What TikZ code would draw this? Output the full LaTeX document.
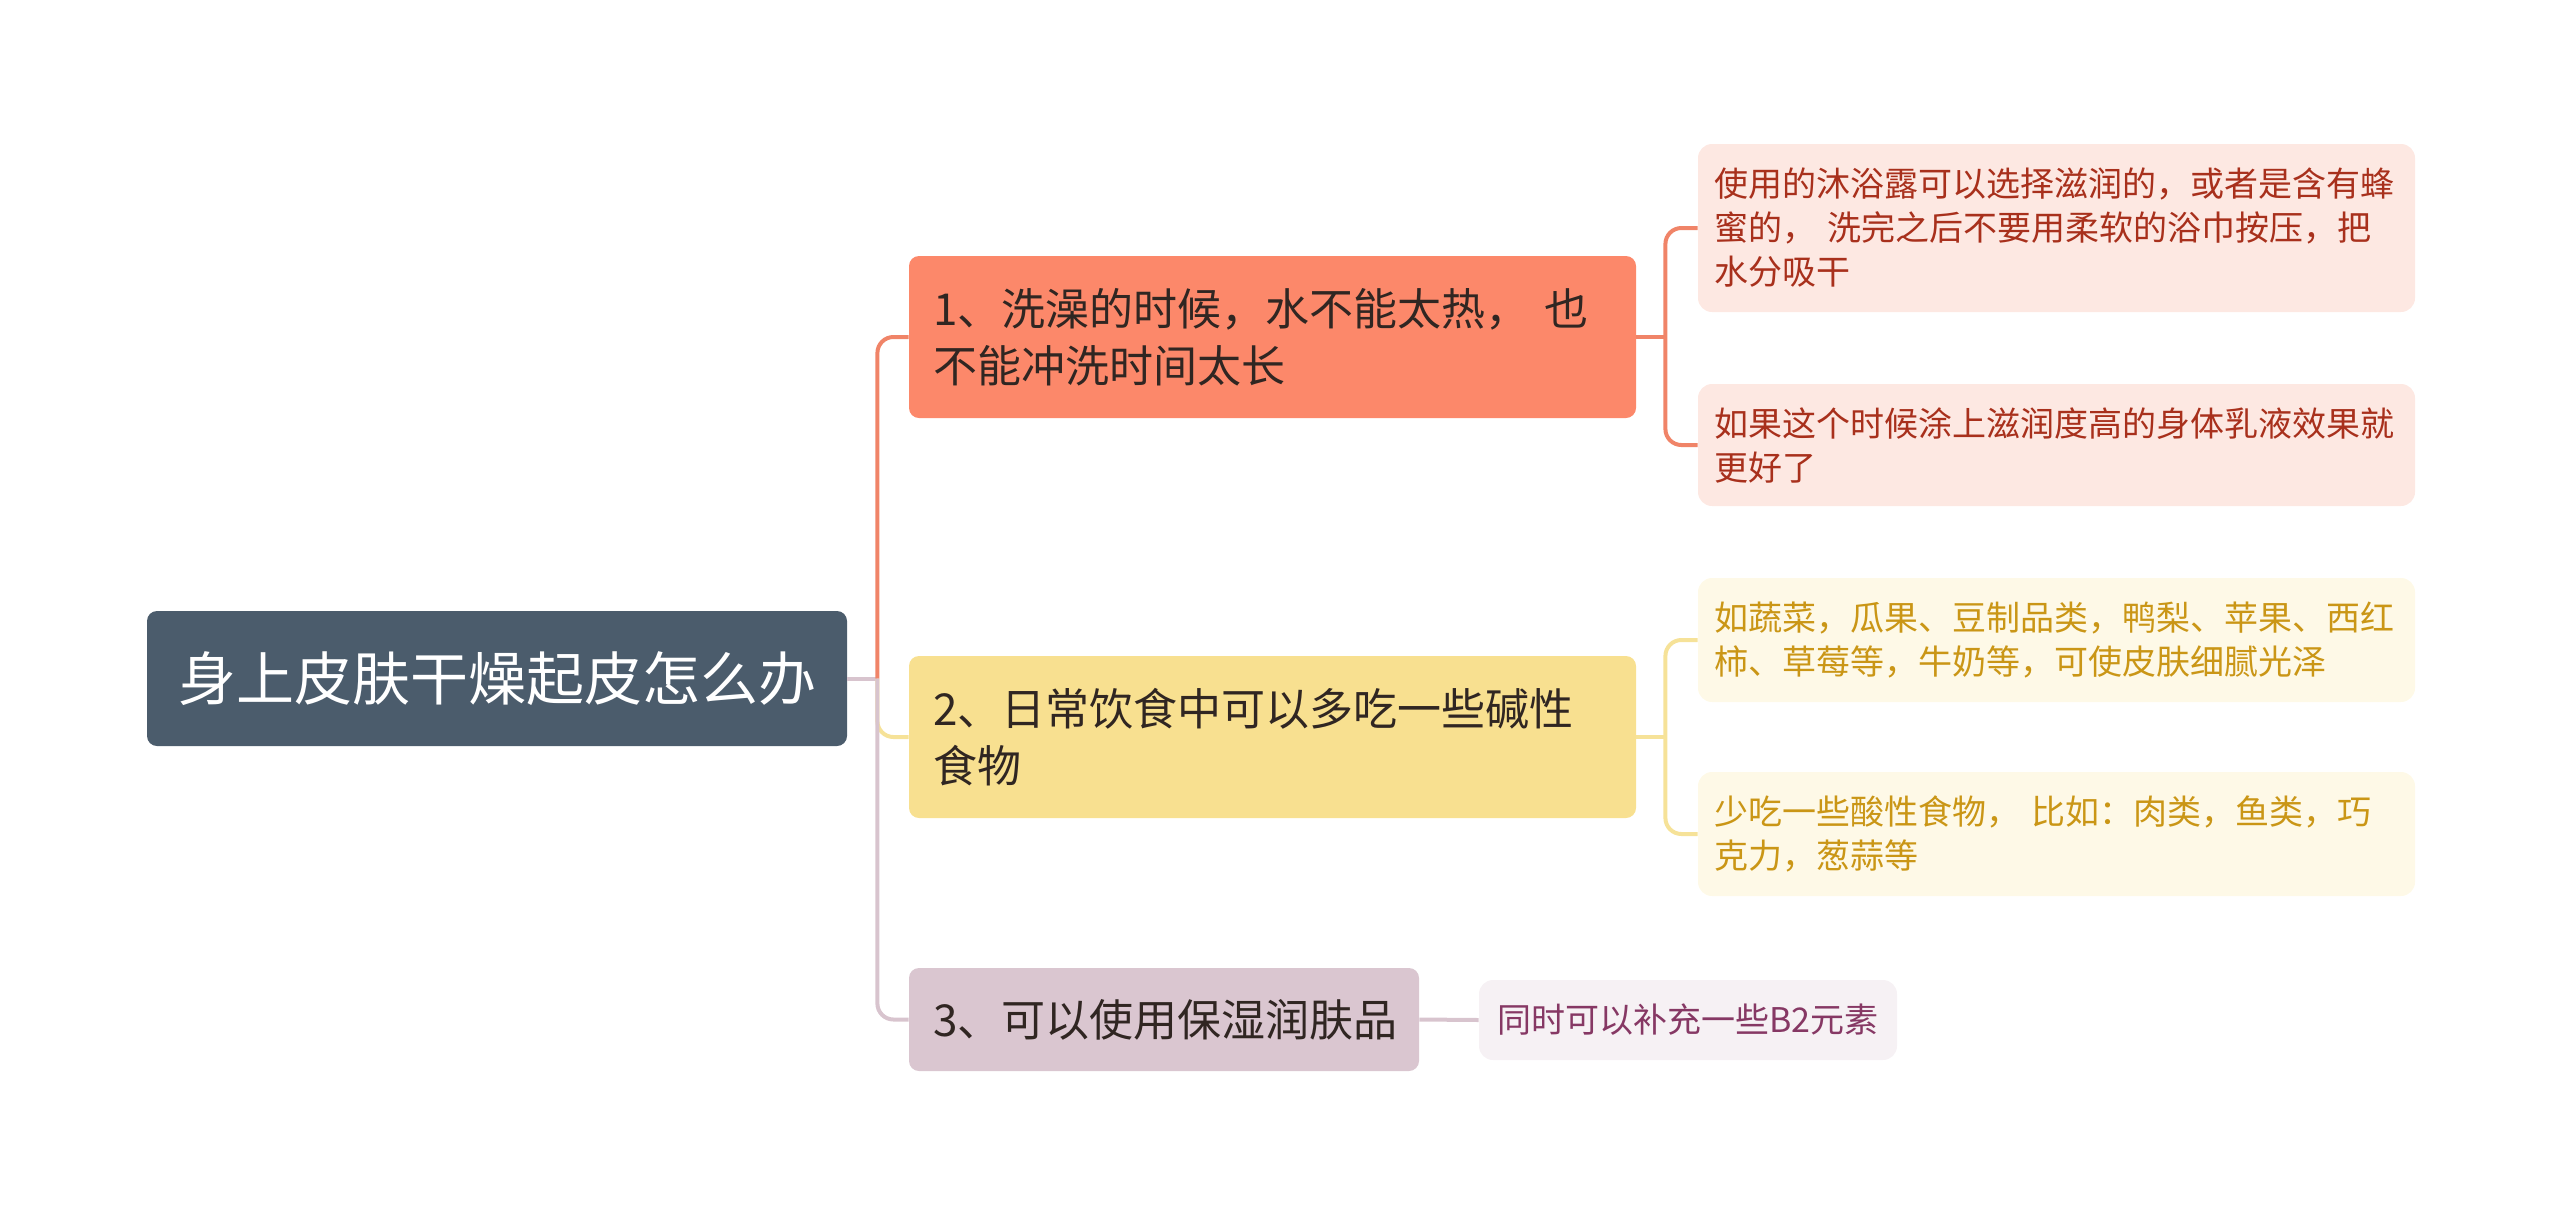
\documentclass[tikz,border=0pt]{standalone}
\usepackage{fontspec}
\setmainfont{Noto Sans CJK SC}
\usetikzlibrary{positioning}
\usepackage{xcolor}
\definecolor{Pizarra}{RGB}{75, 92, 108}
\definecolor{Salmon}{RGB}{252, 136, 106}
\definecolor{SalmonLine}{RGB}{240, 132, 104}
\definecolor{Maiz}{RGB}{248, 224, 144}
\definecolor{MaizLine}{RGB}{246, 226, 152}
\definecolor{Malva}{RGB}{218, 198, 208}
\definecolor{MalvaLine}{RGB}{216, 196, 206}
\definecolor{RosaClaro}{RGB}{253, 232, 226}
\definecolor{CremaClaro}{RGB}{254, 249, 231}
\definecolor{MalvaClaro}{RGB}{246, 241, 244}
\definecolor{Ladrillo}{RGB}{168, 48, 28}
\definecolor{Mostaza}{RGB}{202, 150, 22}
\definecolor{Ciruela}{RGB}{134, 56, 100}
\definecolor{Tinta}{RGB}{48, 38, 34}

\tikzset{
	rootbox/.style={fill=Pizarra, text=white, rounded corners=5pt, minimum width=350pt, minimum height=67.5pt, align=center, font=\fontsize{29pt}{35pt}\selectfont},
	topicbox/.style={rounded corners=5pt, text=Tinta, inner xsep=12pt, align=left, font=\fontsize{22pt}{28.5pt}\selectfont},
	leafbox/.style={rounded corners=7pt, inner xsep=8pt, text width=342.5pt, minimum height=#1, align=left, font=\fontsize{17pt}{22pt}\selectfont},
	link/.style={line width=2pt, rounded corners=8pt}
}

\begin{document}
\begin{tikzpicture}[x=0.5pt, y=-0.5pt]
	\useasboundingbox (0,0) rectangle (2560,1217);
	% Tema central y ramas principales
	\node[rootbox] (raiz) at (497,678.5) {身上皮肤干燥起皮怎么办};
	\node[topicbox, fill=Salmon, text width=339.5pt, minimum height=81pt] (ducha) at (1272.5,337) {1、洗澡的时候，水不能太热， 也\\不能冲洗时间太长};
	\node[topicbox, fill=Maiz, text width=339.5pt, minimum height=81pt] (dieta) at (1272.5,737) {2、日常饮食中可以多吃一些碱性\\食物};
	\node[topicbox, fill=Malva, text width=231pt, minimum height=51.5pt] (crema) at (1164,1019.5) {3、可以使用保湿润肤品};
	% Subtemas
	\node[leafbox=84pt, fill=RosaClaro, text=Ladrillo] (gel) at (2056.5,228) {使用的沐浴露可以选择滋润的，或者是含有蜂\\蜜的， 洗完之后不要用柔软的浴巾按压，把\\水分吸干};
	\node[leafbox=61pt, fill=RosaClaro, text=Ladrillo] (locion) at (2056.5,445) {如果这个时候涂上滋润度高的身体乳液效果就\\更好了};
	\node[leafbox=62pt, fill=CremaClaro, text=Mostaza] (frutas) at (2056.5,640) {如蔬菜，瓜果、豆制品类，鸭梨、苹果、西红\\柿、草莓等，牛奶等，可使皮肤细腻光泽};
	\node[leafbox=62pt, fill=CremaClaro, text=Mostaza] (acidos) at (2056.5,834) {少吃一些酸性食物， 比如：肉类，鱼类，巧\\克力，葱蒜等};
	\node[leafbox=40pt, fill=MalvaClaro, text=Ciruela, text width=193pt, align=center] (vitamina) at (1688,1020) {同时可以补充一些B2元素};
	% Conectores
	\draw[link, MalvaLine] (raiz.east) -- ++(30,0) coordinate (eje);
	\draw[link, MaizLine] (eje) |- (dieta.west);
	\draw[link, SalmonLine] (eje) |- (ducha.west);
	\draw[link, MalvaLine] (eje) |- (crema.west);
	\draw[link, SalmonLine] (ducha.east) -- ++(29,0) coordinate (ejeA);
	\draw[link, SalmonLine] (gel.west) -| (ejeA) |- (locion.west);
	\draw[link, MaizLine] (dieta.east) -- ++(29,0) coordinate (ejeB);
	\draw[link, MaizLine] (frutas.west) -| (ejeB) |- (acidos.west);
	\draw[link, MalvaLine] (crema.east) -- (vitamina.west);
\end{tikzpicture}
\end{document}
